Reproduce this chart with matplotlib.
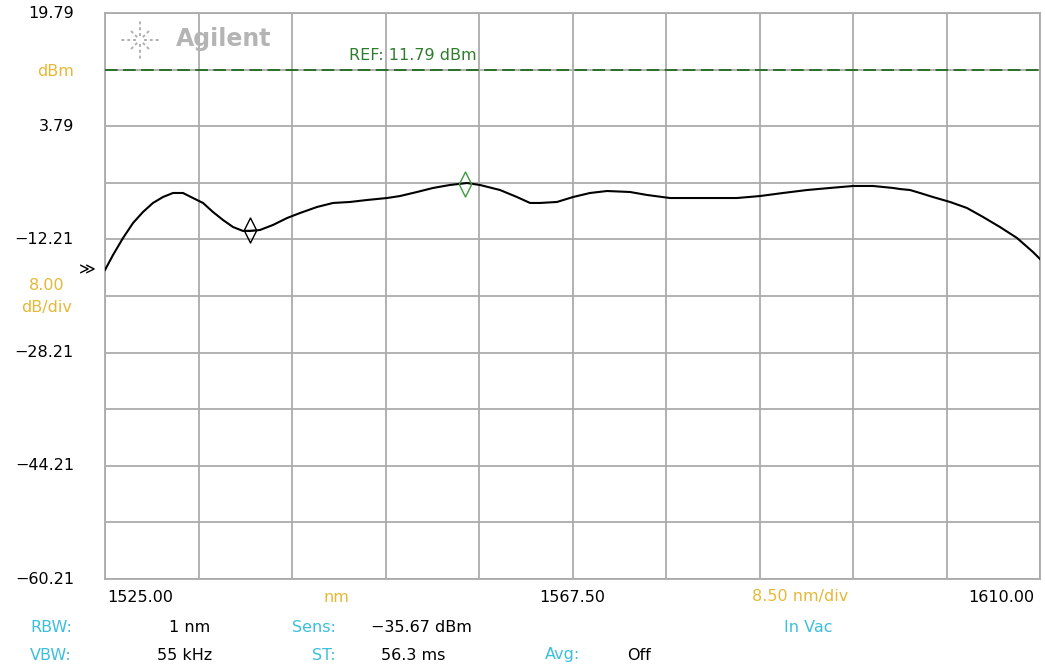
import matplotlib
matplotlib.use("Agg")
import matplotlib.pyplot as plt
from matplotlib.path import Path
from matplotlib.lines import Line2D
import numpy as np

# ---- data ----
wavelength_nm = [1525.00, 1525.73, 1526.64, 1527.55, 1528.45, 1529.36, 1530.27, 1531.18, 1532.09,
                 1533.00, 1533.91, 1534.82, 1535.73, 1536.64, 1537.55, 1538.18, 1539.09, 1540.27,
                 1541.55, 1542.73, 1544.27, 1545.73, 1547.27, 1548.82, 1550.64, 1551.82, 1553.36,
                 1554.82, 1556.36, 1557.91, 1559.09, 1560.91, 1562.45, 1563.64, 1564.55, 1566.09,
                 1567.55, 1569.09, 1570.64, 1572.73, 1574.27, 1576.36, 1578.18, 1582.45, 1584.55,
                 1586.64, 1588.82, 1590.91, 1593.0, 1594.82, 1596.64, 1597.27, 1598.18, 1599.09,
                 1600.27, 1601.82, 1603.36, 1604.82, 1606.36, 1607.91, 1609.36, 1610.0]
power_dbm = [-16.53, -14.41, -12.01, -9.89, -8.34, -7.06, -6.22, -5.65, -5.65,
             -6.36, -7.06, -8.34, -9.47, -10.46, -11.02, -11.02, -10.88, -10.17,
             -9.19, -8.48, -7.63, -7.06, -6.92, -6.64, -6.36, -6.08, -5.51,
             -4.94, -4.52, -4.24, -4.52, -5.23, -6.22, -7.06, -7.06, -6.92,
             -6.22, -5.65, -5.37, -5.51, -5.93, -6.36, -6.36, -6.36, -6.08,
             -5.65, -5.23, -4.94, -4.66, -4.66, -4.94, -5.09, -5.23, -5.65,
             -6.22, -6.92, -7.77, -9.04, -10.46, -12.01, -13.99, -14.98]

marker1 = (1538.18, -10.95)   # black marker
marker2 = (1557.73, -4.38)    # green marker
ref_level = 11.79
y_top, y_bottom = 19.79, -60.21
x_start, x_stop = 1525.0, 1610.0
y_tick_labels = ["19.79", "3.79", "-12.21", "-28.21", "-44.21", "-60.21"]
x_tick_labels = ["1525.00", "1567.50", "1610.00"]

# ---- style ----
FONT = ["DejaVu Sans"]
plt.rcParams['font.family'] = FONT
FS = 11.5
CYAN = "#3cbfdc"
YEL = "#e6b838"
GRID = "#ababab"

W, H = 1045, 669
fig = plt.figure(figsize=(W / 100, H / 100), dpi=100)
fig.patch.set_facecolor("white")
L, R, T, B = 105, 1040, 13, 579
ax = fig.add_axes([L / W, 1 - B / H, (R - L) / W, (B - T) / H])
ax.set_xlim(x_start, x_stop)
ax.set_ylim(y_bottom, y_top)
ax.set_xticks(np.linspace(x_start, x_stop, 11))
ax.set_yticks(np.linspace(y_bottom, y_top, 11))
ax.tick_params(length=0, labelbottom=False, labelleft=False)
ax.grid(True, color=GRID, linewidth=1.3)
for s in ax.spines.values():
    s.set_color(GRID)
    s.set_linewidth(1.3)

# reference line
ax.axhline(ref_level, color="#1f6a1f", linewidth=1.3, dashes=(7, 3), zorder=3)
ax.text(1547.2, ref_level + 0.9, "REF: 11.79 dBm", color="#2e7d2e", fontsize=FS,
        ha="left", va="bottom", zorder=4)

# trace
ax.plot(wavelength_nm, power_dbm, color="black", linewidth=1.5, zorder=5,
        solid_joinstyle="round")

# markers (tall diamonds)
diamond = Path([(0, 1), (0.5, 0), (0, -1), (-0.5, 0), (0, 1)],
               [Path.MOVETO, Path.LINETO, Path.LINETO, Path.LINETO, Path.CLOSEPOLY])
ax.plot([marker1[0]], [marker1[1]], marker=diamond, markersize=18, markerfacecolor="none",
        markeredgecolor="black", markeredgewidth=1.0, zorder=6)
ax.plot([marker1[0]], [marker1[1]], marker="_", markersize=10, markeredgecolor="black",
        markeredgewidth=1.0, zorder=6)
ax.plot([marker2[0]], [marker2[1]], marker=diamond, markersize=18, markerfacecolor="none",
        markeredgecolor="#3d9a3d", markeredgewidth=1.0, zorder=6)

# Agilent logo
ax.text(1531.4, 19.79 - 3.7, "Agilent", color="#b4b4b4", fontsize=17, fontweight="bold",
        ha="left", va="center", zorder=4)
cx, cy = 140 / W, 1 - 40 / H
for ang in np.arange(0, 360, 45):
    a = np.deg2rad(ang)
    r0, r1 = 4, 19 if ang % 90 == 0 else 15
    fig.add_artist(Line2D([cx + r0 * np.cos(a) / W, cx + r1 * np.cos(a) / W],
                          [cy + r0 * np.sin(a) / H, cy + r1 * np.sin(a) / H],
                          color="#b0b0b0", linewidth=1.4, linestyle=(0, (1.5, 1.5))))


def ftext(x, y, s, color="black", ha="left", **kw):
    fig.text(x / W, 1 - y / H, s, color=color, ha=ha, va="center", fontsize=FS, **kw)


# y-axis labels
ytick_vals = np.linspace(y_top, y_bottom, 6)
for lab, v in zip(y_tick_labels, ytick_vals):
    ypix = T + (y_top - v) / (y_top - y_bottom) * (B - T)
    ftext(74, ypix, lab.replace("-", "\u2212"), ha="right")
ftext(74, 71, "dBm", color=YEL, ha="right")
ftext(47, 285, "8.00", color=YEL, ha="center")
ftext(47, 307, "dB/div", color=YEL, ha="center")
ftext(87, 270, "\u226b", ha="center")

# x-axis labels
ftext(107, 597, x_tick_labels[0])
ftext(336, 597, "nm", color=YEL, ha="center")
ftext(572, 597, x_tick_labels[1], ha="center")
ftext(800, 597, "8.50 nm/div", color=YEL, ha="center")
ftext(1034, 597, x_tick_labels[2], ha="right")

# info rows
ftext(30, 628, "RBW:", color=CYAN)
ftext(30, 655, "VBW:", color=CYAN)
ftext(190, 628, "1 nm", ha="center")
ftext(185, 655, "55 kHz", ha="center")
ftext(336, 628, "Sens:", color=CYAN, ha="right")
ftext(336, 655, "ST:", color=CYAN, ha="right")
ftext(421, 628, "\u221235.67 dBm", ha="center")
ftext(413, 655, "56.3 ms", ha="center")
ftext(545, 655, "Avg:", color=CYAN)
ftext(627, 655, "Off")
ftext(808, 628, "In Vac", color=CYAN, ha="center")

fig.savefig("out.png", dpi=100, facecolor="white")
